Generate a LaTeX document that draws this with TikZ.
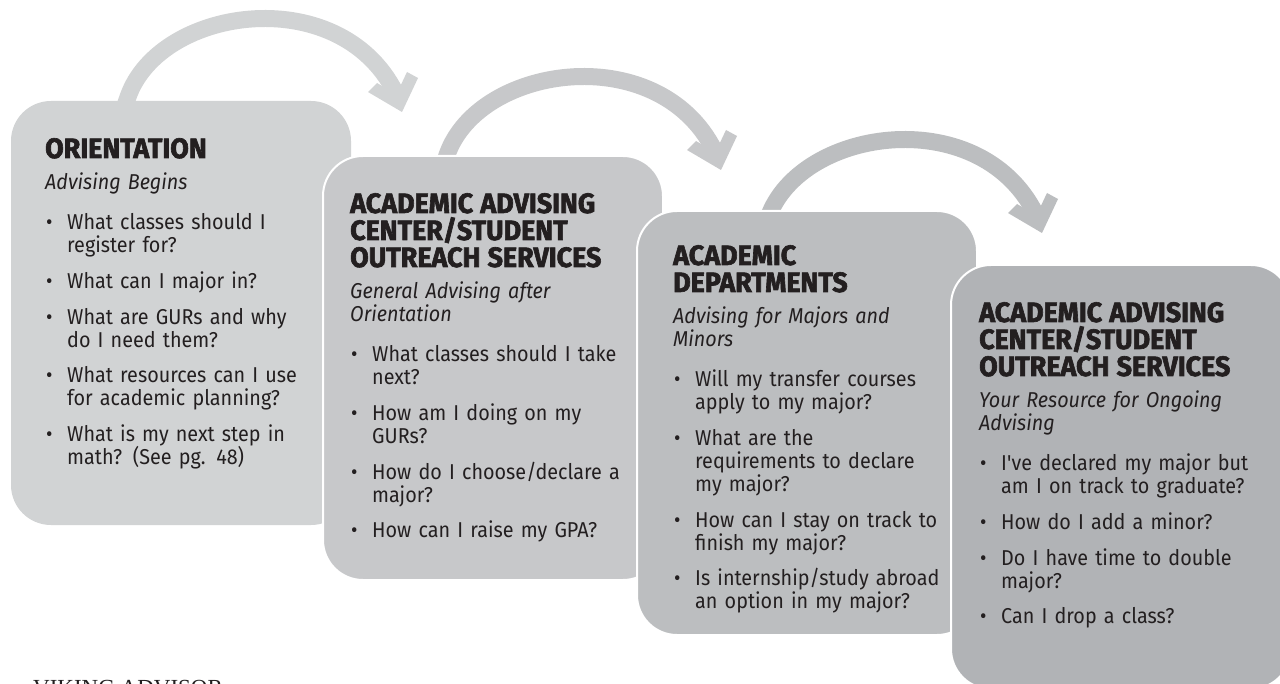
\documentclass[tikz,border=0pt]{standalone}
\usepackage{fontspec}
\setmainfont{Fira Sans}[FakeStretch=0.92]
\newfontfamily\headfont{Fira Sans}[FakeStretch=0.96,BoldFeatures={FakeBold=2.2}]
\newfontfamily\vikfont{Liberation Serif}
\definecolor{ink}{HTML}{231F20}
\definecolor{g1}{HTML}{D1D3D4}
\definecolor{g2}{HTML}{C7C8CA}
\definecolor{g3}{HTML}{BCBEC0}
\definecolor{g4}{HTML}{B1B3B6}
\tikzset{
  panel/.style={rectangle, rounded corners=40pt, minimum width=340pt, minimum height=424pt,
    anchor=north west, inner sep=0pt, draw=white, line width=2pt},
  txt/.style={anchor=base west, text width=330pt, inner sep=0pt, text=ink,
    font=\fontsize{21.5}{23}\selectfont},
  flowshaft/.style={line width=17pt, line cap=butt, line join=round},
}
\newcommand\hd[1]{{\headfont\bfseries\fontsize{28}{27}\selectfont #1\par}}
\newcommand\subt[1]{\vspace{8.5pt}{\itshape #1\par}\vspace{4.5pt}}
\newcommand\bitem{\par\vspace{12.7pt}\hangindent=22pt\hangafter=1\noindent\makebox[22pt][l]{\hspace{1pt}•}}
\newcommand\nl{\newline}
\newcommand\flowarrow[4]{%
  \begin{scope}[shift={(#2,#3)}]
    \coordinate (#1s) at (123.5,110);
    \coordinate (#1a) at (128,97);
    \coordinate (#1p) at (160,5);
    \coordinate (#1q) at (345,-20);
    \coordinate (#1e) at (398,98);
    \draw[flowshaft,draw=#4] (#1s) -- (#1a) .. controls (#1p) and (#1q) .. (#1e);
    \fill[#4] (402,112) -- (368,92) -- (377,83) -- (396.4,94.4) -- (407,72) -- (418,78) -- cycle;
  \end{scope}}
\begin{document}
\begin{tikzpicture}[x=1pt,y=-1pt]
\useasboundingbox (0,0) rectangle (1280,684);
\clip (0,0) rectangle (1280,684);
\fill[white] (0,0) rectangle (1280,684);

\flowarrow{a1}{0}{0}{g1}
\flowarrow{a2}{319}{58}{g2}
\flowarrow{a3}{640}{121}{g3}

\node[panel, fill=g1, draw=none] (b1) at (10,100) {};
\node[panel, fill=g2] (b2) at (322,155) {};
\node[panel, fill=g3] (b3) at (636,210) {};
\node[panel, fill=g4] (b4) at (950,264) {};

\node[txt] (t1) at (45,158) {\raggedright
\hd{ORIENTATION}
\subt{Advising Begins}
\bitem What classes should I\nl register for?
\bitem What can I major in?
\bitem What are GURs and why\nl do I need them?
\bitem What resources can I use\nl for academic planning?
\bitem What is my next step in\nl math? (See pg. 48)\par};

\node[txt] (t2) at (350,213) {\raggedright
\hd{ACADEMIC ADVISING\\CENTER/STUDENT\\OUTREACH SERVICES}
\subt{General Advising after\\Orientation}
\bitem What classes should I take\nl next?
\bitem How am I doing on my\nl GURs?
\bitem How do I choose/declare a\nl major?
\bitem How can I raise my GPA?\par};

\node[txt] (t3) at (673,265) {\raggedright
\hd{ACADEMIC\\DEPARTMENTS}
\subt{Advising for Majors and\\Minors}
\bitem Will my transfer courses\nl apply to my major?
\bitem What are the\nl requirements to declare\nl my major?
\bitem How can I stay on track to\nl finish my major?
\bitem Is internship/study abroad\nl an option in my major?\par};

\node[txt] (t4) at (979,322) {\raggedright
\hd{ACADEMIC ADVISING\\CENTER/STUDENT\\OUTREACH SERVICES}
\subt{Your Resource for Ongoing\\Advising}
\bitem I\textquotesingle ve declared my major but\nl am I on track to graduate?
\bitem How do I add a minor?
\bitem Do I have time to double\nl major?
\bitem Can I drop a class?\par};

\node[anchor=base west, inner sep=0pt, text=ink, font=\vikfont\fontsize{23}{23}\selectfont] (vik) at (33,695) {VIKING ADVISOR};
\end{tikzpicture}
\end{document}
